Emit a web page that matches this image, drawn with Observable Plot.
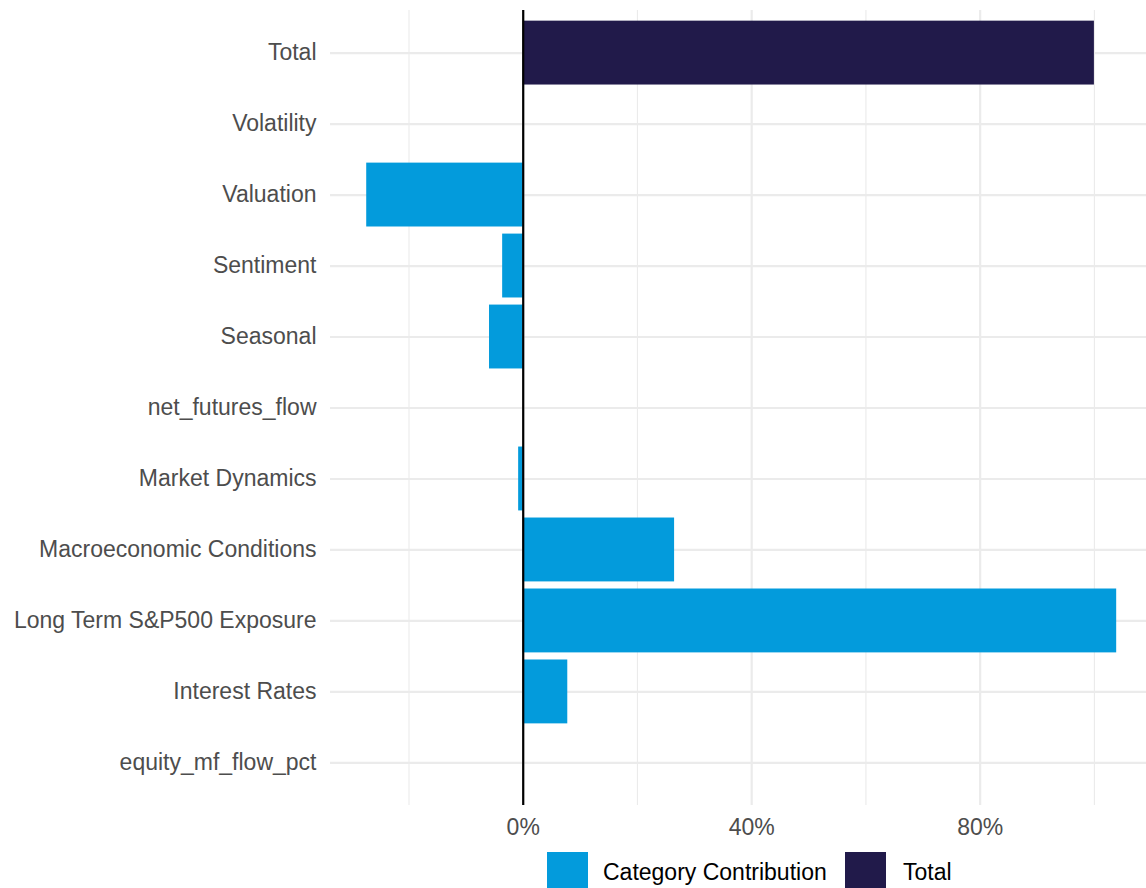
<!DOCTYPE html>
<html>
<head>
<meta charset="utf-8">
<script src="https://cdn.jsdelivr.net/npm/d3@7"></script>
<script src="https://cdn.jsdelivr.net/npm/@observablehq/plot@0.6"></script>
<style>
  html, body { margin: 0; padding: 0; background: #fff; }
  body { width: 1146px; height: 888px; overflow: hidden; position: relative; font-family: "Liberation Sans", Arial, Helvetica, sans-serif; }
  #legend { position: absolute; left: 0; top: 852px; width: 1146px; height: 41px; }
  .key { position: absolute; top: 0; width: 41px; height: 41px; }
  .lab { position: absolute; top: 0; height: 41px; line-height: 41px; font-size: 23px; color: #000; white-space: nowrap; }
</style>
</head>
<body>
<div id="chart"></div>
<div id="legend">
  <div class="key" style="left:547px;background:#039BDC"></div>
  <div class="lab" style="left:603px">Category Contribution</div>
  <div class="key" style="left:845px;background:#211A4A"></div>
  <div class="lab" style="left:903px">Total</div>
</div>
<script>
const categories = ["Total","Volatility","Valuation","Sentiment","Seasonal","net_futures_flow","Market Dynamics","Macroeconomic Conditions","Long Term S&P500 Exposure","Interest Rates","equity_mf_flow_pct"];
const values = [1.00, 0, -0.274, -0.036, -0.059, 0, -0.008, 0.265, 1.039, 0.078, 0];
const types = ["Total","Category Contribution","Category Contribution","Category Contribution","Category Contribution","Category Contribution","Category Contribution","Category Contribution","Category Contribution","Category Contribution","Category Contribution"];
const majorTicks = [0, 0.4, 0.8];
const minorTicks = [-0.2, 0.2, 0.6, 1.0];
const typeNames = ["Category Contribution", "Total"];
const typeColors = ["#039BDC", "#211A4A"];

const data = categories.map((c, i) => ({category: c, value: values[i], type: types[i]}));

const chart = Plot.plot({
  width: 1146,
  height: 845,
  marginLeft: 330,
  marginRight: 0,
  marginTop: 10,
  marginBottom: 40,
  style: {fontFamily: '"Liberation Sans", Arial, Helvetica, sans-serif', fontSize: "23px", color: "#4D4D4D", background: "#fff"},
  x: {domain: [-0.3374, 1.0912], ticks: majorTicks, tickFormat: d => Math.round(d * 100) + "%", label: null, round: false},
  y: {domain: categories, paddingInner: 0.1, paddingOuter: 0.15, label: null, round: false},
  color: {domain: typeNames, range: typeColors},
  marks: [
    Plot.ruleX(minorTicks, {stroke: "#EBEBEB", strokeWidth: 1.1}),
    Plot.ruleX(majorTicks, {stroke: "#EBEBEB", strokeWidth: 2.2}),
    Plot.ruleY(categories, {y: d => d, stroke: "#EBEBEB", strokeWidth: 2.2}),
    Plot.barX(data, {x1: 0, x2: "value", y: "category", fill: "type"}),
    Plot.ruleX([0], {stroke: "#000", strokeWidth: 2.2}),
    Plot.axisX(majorTicks, {tickSize: 0, tickPadding: 13, tickFormat: d => Math.round(d * 100) + "%", fill: "#4D4D4D", fontSize: 23}),
    Plot.axisY({tickSize: 0, tickPadding: 14, fill: "#4D4D4D", fontSize: 23})
  ]
});
document.getElementById("chart").appendChild(chart);
</script>
</body>
</html>
